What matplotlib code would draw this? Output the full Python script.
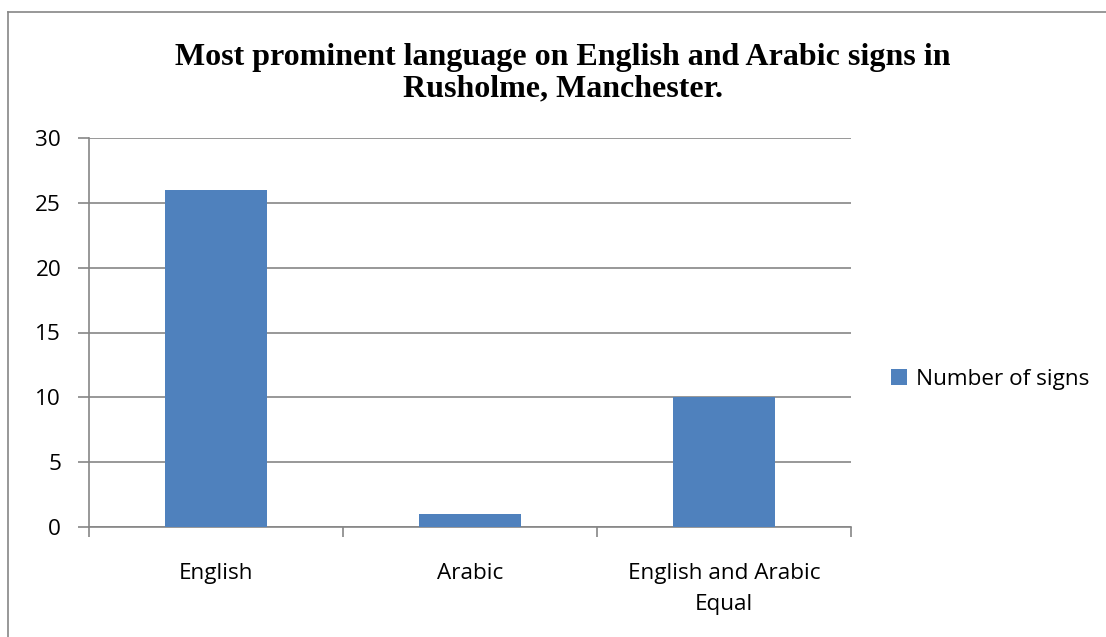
import matplotlib.pyplot as plt
from matplotlib.lines import Line2D

categories = ['English', 'Arabic', 'English and Arabic\nEqual']
signs = [26, 1, 10]
yticks = [0, 5, 10, 15, 20, 25, 30]

blue = '#4F81BD'
gray = '#868686'
tick_font = 'Open Sans'
fs = 16.2

fig = plt.figure(figsize=(11.06, 6.37), dpi=100)
ax = fig.add_axes([89/1106, 110/637, 762/1106, 389/637])

x = range(len(categories))
ax.bar(x, signs, width=0.4, color=blue, zorder=3, label='Number of signs')

ax.set_xlim(-0.5, len(categories) - 0.5)
ax.set_ylim(0, 30)
ax.set_yticks(yticks)
ax.set_xticks([i - 0.5 for i in range(len(categories) + 1)])
ax.set_xticklabels([])
ax.set_xticks(list(x), minor=True)
ax.set_xticklabels(categories, minor=True, fontfamily=tick_font, fontsize=fs,
                   linespacing=1.6)
ax.tick_params(axis='x', which='minor', length=0, pad=26)
ax.tick_params(axis='x', which='major', length=7, color=gray, width=1.2)
ax.tick_params(axis='y', length=8, color=gray, width=1.2, pad=12)
for lbl in ax.get_yticklabels():
    lbl.set_fontfamily(tick_font)
    lbl.set_fontsize(fs)

ax.grid(axis='y', color=gray, linewidth=1.2, zorder=0)
for s in ['top', 'right']:
    ax.spines[s].set_visible(False)
for s in ['left', 'bottom']:
    ax.spines[s].set_color(gray)
    ax.spines[s].set_linewidth(1.2)

fig.text(563/1106, 1 - 73/637, 'Most prominent language on English and Arabic signs in\nRusholme, Manchester.',
         ha='center', va='center', fontfamily='Liberation Serif', fontweight='bold',
         fontsize=23, linespacing=1.13)

ax.legend(loc='center left', bbox_to_anchor=(802/762, 0.38),
          frameon=False, prop={'family': tick_font, 'size': fs},
          handlelength=0.7, handleheight=0.7, handletextpad=0.4, borderaxespad=0,
          borderpad=0)

# chart area frame (left and top edges visible)
fig.add_artist(Line2D([8/1106, 8/1106], [0, 1 - 12/637], transform=fig.transFigure,
                      color=gray, linewidth=1.2))
fig.add_artist(Line2D([8/1106, 1], [1 - 12/637, 1 - 12/637], transform=fig.transFigure,
                      color=gray, linewidth=1.2))

plt.savefig('out.png', dpi=100)
